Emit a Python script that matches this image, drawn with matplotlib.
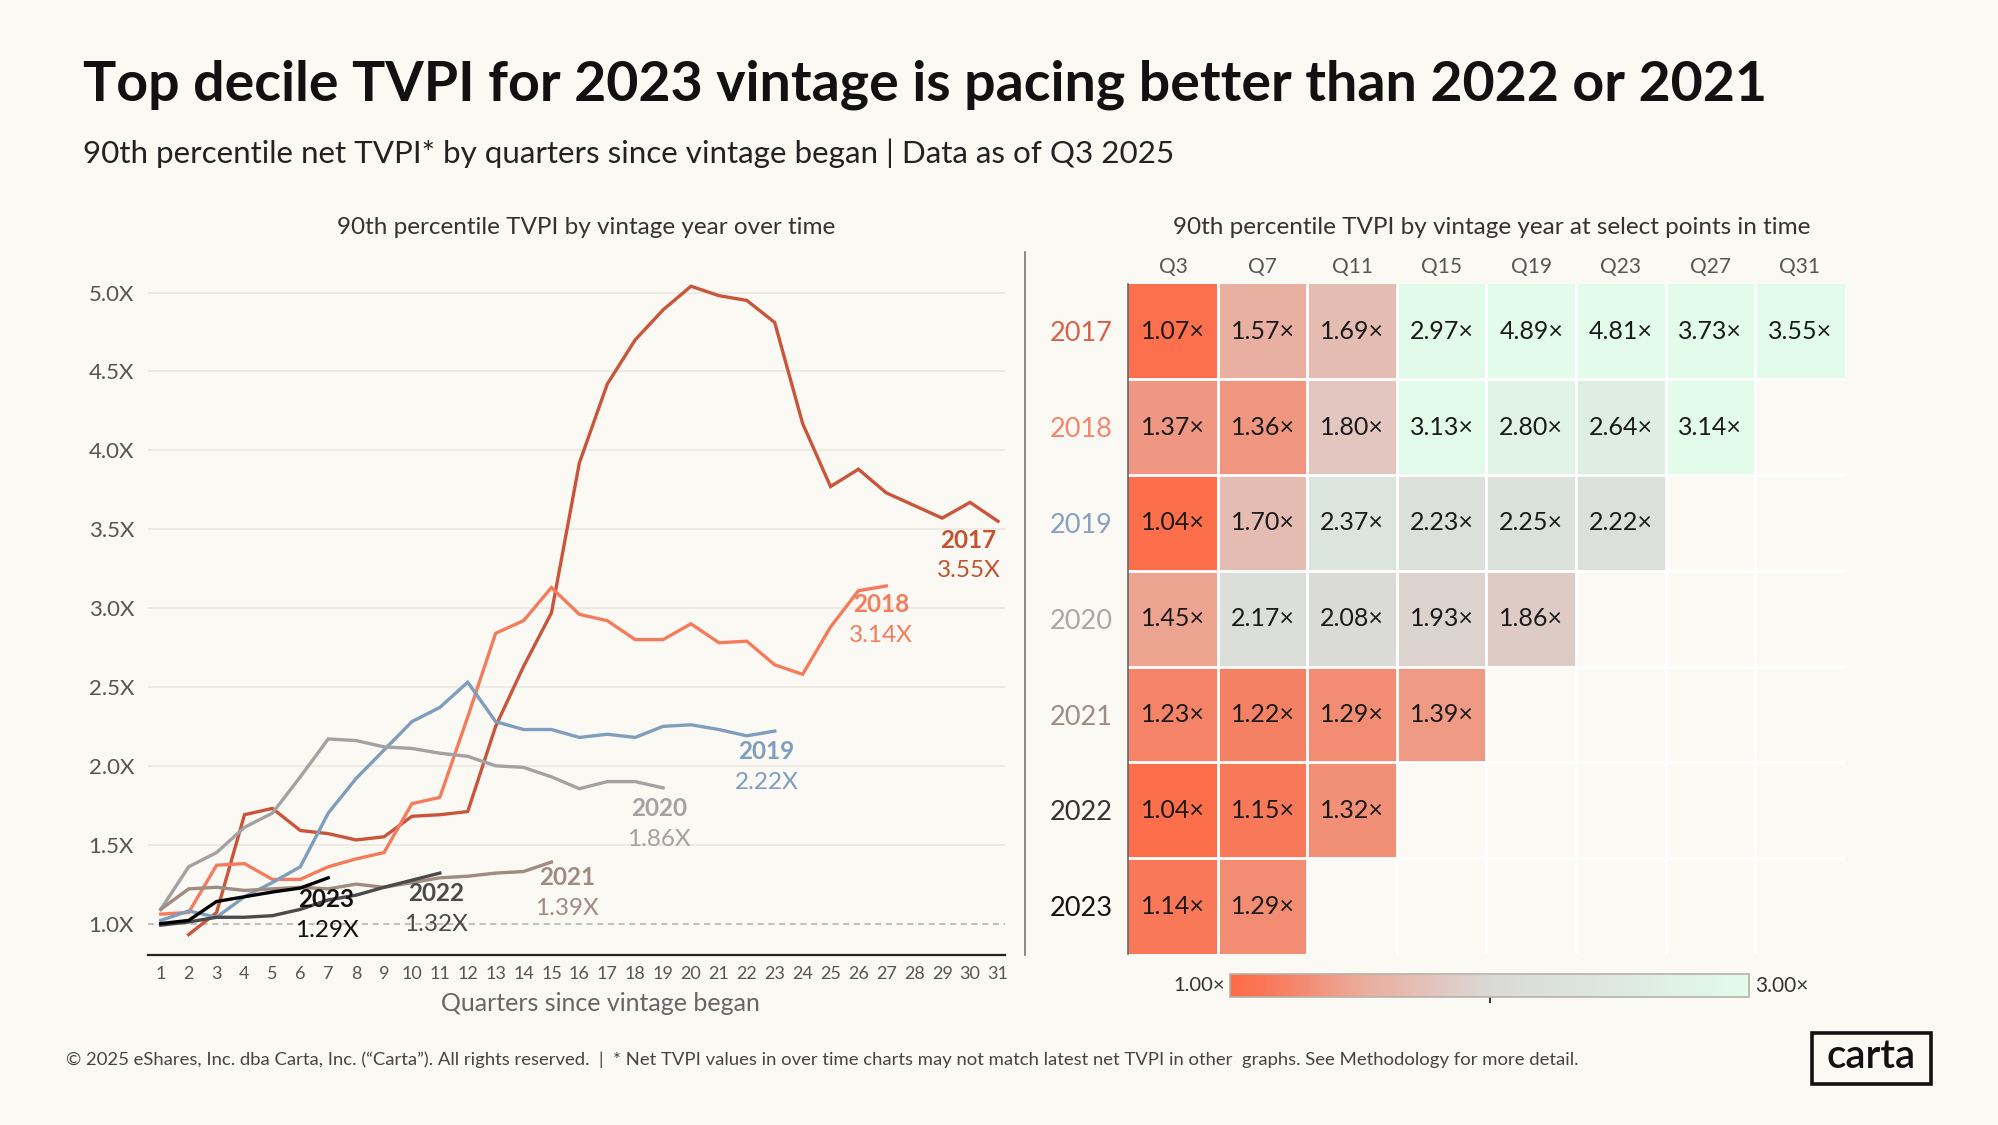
import matplotlib
matplotlib.use("Agg")
import matplotlib.pyplot as plt
import numpy as np
from matplotlib.colors import LinearSegmentedColormap, Normalize
from matplotlib.lines import Line2D
from matplotlib.patches import Rectangle
import matplotlib.cm as cm

plt.rcParams['font.family'] = ['Lato', 'DejaVu Sans']

BG = '#FBF9F4'

# ---- data: 90th percentile TVPI by quarter since vintage began ----
quarters = list(range(1, 32))
vintages = ['2017', '2018', '2019', '2020', '2021', '2022', '2023']

tvpi_2017 = [None, 0.93, 1.07, 1.69, 1.73, 1.59, 1.57, 1.53, 1.55, 1.68, 1.69, 1.71,
             2.25, 2.63, 2.97, 3.92, 4.42, 4.70, 4.89, 5.04, 4.98, 4.95, 4.81, 4.17,
             3.77, 3.88, 3.73, 3.65, 3.57, 3.67, 3.55]
tvpi_2018 = [1.06, 1.07, 1.37, 1.38, 1.28, 1.28, 1.36, 1.41, 1.45, 1.76, 1.80, 2.31,
             2.84, 2.92, 3.13, 2.96, 2.92, 2.80, 2.80, 2.90, 2.78, 2.79, 2.64, 2.58,
             2.88, 3.11, 3.14]
tvpi_2019 = [1.02, 1.08, 1.04, 1.17, 1.26, 1.36, 1.70, 1.92, 2.10, 2.28, 2.37, 2.53,
             2.28, 2.23, 2.23, 2.18, 2.20, 2.18, 2.25, 2.26, 2.23, 2.19, 2.22]
tvpi_2020 = [1.09, 1.36, 1.45, 1.61, 1.70, 1.93, 2.17, 2.16, 2.12, 2.11, 2.08, 2.06,
             2.00, 1.99, 1.93, 1.855, 1.90, 1.90, 1.86]
tvpi_2021 = [1.09, 1.22, 1.23, 1.21, 1.22, 1.23, 1.22, 1.25, 1.23, 1.26, 1.29, 1.30,
             1.32, 1.33, 1.39]
tvpi_2022 = [0.99, 1.01, 1.04, 1.04, 1.05, 1.09, 1.15, 1.18, 1.23, 1.275, 1.32]
tvpi_2023 = [1.00, 1.02, 1.14, 1.17, 1.20, 1.225, 1.29]

series = [tvpi_2017, tvpi_2018, tvpi_2019, tvpi_2020, tvpi_2021, tvpi_2022, tvpi_2023]
latest_labels = ['3.55X', '3.14X', '2.22X', '1.86X', '1.39X', '1.32X', '1.29X']
# label anchor (quarter, value) for the end-of-line annotations
label_q = [29.95, 26.8, 22.7, 18.85, 15.57, 10.86, 6.94]
label_v = [3.43, 3.02, 2.09, 1.73, 1.29, 1.19, 1.15]

line_colors = ['#C9553B', '#F47C5C', '#7F9DBC', '#A2A2A2', '#A08B82', '#4A4A4A', '#000000']
label_colors = ['#C4522F', '#F47C5C', '#7F9DBC', '#A2A2A2', '#A08B82', '#4A4A4A', '#111111']
row_label_colors = ['#D8614A', '#F4856A', '#86A1C0', '#A8A8A8', '#9E8C84', '#333333', '#111111']

# heatmap: select quarters
hm_cols = ['Q3', 'Q7', 'Q11', 'Q15', 'Q19', 'Q23', 'Q27', 'Q31']
hm_2017 = [1.07, 1.57, 1.69, 2.97, 4.89, 4.81, 3.73, 3.55]
hm_2018 = [1.37, 1.36, 1.80, 3.13, 2.80, 2.64, 3.14, None]
hm_2019 = [1.04, 1.70, 2.37, 2.23, 2.25, 2.22, None, None]
hm_2020 = [1.45, 2.17, 2.08, 1.93, 1.86, None, None, None]
hm_2021 = [1.23, 1.22, 1.29, 1.39, None, None, None, None]
hm_2022 = [1.04, 1.15, 1.32, None, None, None, None, None]
hm_2023 = [1.14, 1.29, None, None, None, None, None, None]
hm_rows = [hm_2017, hm_2018, hm_2019, hm_2020, hm_2021, hm_2022, hm_2023]

yticks = [1.0, 1.5, 2.0, 2.5, 3.0, 3.5, 4.0, 4.5, 5.0]

fig = plt.figure(figsize=(19.99, 11.25), dpi=100, facecolor=BG)

# ---- titles ----
fig.text(0.0415, 0.925, 'Top decile TVPI for 2023 vintage is pacing better than 2022 or 2021',
         fontsize=40, fontweight='bold', color='#111111', va='center', ha='left')
fig.text(0.0415, 0.864, '90th percentile net TVPI* by quarters since vintage began | Data as of Q3 2025',
         fontsize=22.6, color='#222222', va='center', ha='left')

# ---- left: lines over time ----
ax1 = fig.add_axes([0.074, 0.151, 0.429, 0.603])
ax1.set_facecolor(BG)
for v in yticks[1:]:
    ax1.axhline(v, color='#ECE9E3', lw=1.3, zorder=0)
ax1.axhline(1.0, color='#AFAFAF', lw=1.1, ls=(0, (4, 3)), zorder=0)

for vals, col in zip(series, line_colors):
    q = [qq for qq, vv in zip(quarters, vals) if vv is not None]
    v = [vv for vv in vals if vv is not None]
    ax1.plot(q, v, color=col, lw=2.4, solid_joinstyle='miter', zorder=2)

for yr, lab, q, v, col in zip(vintages, latest_labels, label_q, label_v, label_colors):
    ax1.text(q, v, yr, color=col, fontsize=17.5, fontweight='bold', ha='center', va='center', zorder=3)
    ax1.text(q, v - 0.195, lab, color=col, fontsize=17.5, ha='center', va='center', zorder=3)

ax1.set_xlim(0.54, 31.27)
ax1.set_ylim(0.8, 5.1)
ax1.set_xticks(quarters)
ax1.set_xticklabels([str(q) for q in quarters])
ax1.set_yticks(yticks)
ax1.set_yticklabels([f'{v:.1f}X' for v in yticks])
ax1.tick_params(axis='both', length=0, colors='#555555')
ax1.tick_params(axis='x', labelsize=13, pad=8)
ax1.tick_params(axis='y', labelsize=16, pad=10)
for s in ['top', 'right', 'left']:
    ax1.spines[s].set_visible(False)
ax1.spines['bottom'].set_color('#222222')
ax1.spines['bottom'].set_linewidth(1.6)

fig.text(0.3004, 0.1078, 'Quarters since vintage began', fontsize=18, color='#666666',
         ha='center', va='center')
fig.text(0.2934, 0.798, '90th percentile TVPI by vintage year over time',
         fontsize=17.5, color='#333333', ha='center', va='center')

# separator
fig.add_artist(Line2D([0.5128, 0.5128], [0.151, 0.776], color='#777777', lw=1.2))

# ---- right: heatmap ----
cmap = LinearSegmentedColormap.from_list('tvpi', [
    (0.0, '#FF6A46'),
    (0.10, '#F67F62'),
    (0.25, '#EBAB9B'),
    (0.40, '#E2C6BF'),
    (0.50, '#DAD9D6'),
    (0.75, '#DDE9E1'),
    (1.0, '#E3FBEA'),
])
norm = Normalize(vmin=1.0, vmax=3.0)

grid = np.array([[np.nan if v is None else v for v in row] for row in hm_rows])
ax2 = fig.add_axes([0.5644, 0.152, 0.3584, 0.596])
ax2.set_facecolor(BG)
ax2.imshow(np.ma.masked_invalid(grid), cmap=cmap, norm=norm, aspect='auto',
           extent=(-0.5, len(hm_cols) - 0.5, len(vintages) - 0.5, -0.5), interpolation='nearest')
for i, row in enumerate(hm_rows):
    for j, v in enumerate(row):
        if v is not None:
            ax2.text(j, i, f'{v:.2f}×', ha='center', va='center', fontsize=18, color='#1A1A1A')
for k in range(1, len(hm_cols)):
    ax2.axvline(k - 0.5, color='white', lw=2)
for k in range(1, len(vintages)):
    ax2.axhline(k - 0.5, color='white', lw=2)
ax2.set_xlim(-0.5, len(hm_cols) - 0.5)
ax2.set_ylim(len(vintages) - 0.5, -0.5)
ax2.set_xticks(range(len(hm_cols)))
ax2.set_xticklabels(hm_cols)
ax2.xaxis.tick_top()
ax2.set_yticks(range(len(vintages)))
ax2.set_yticklabels(vintages)
ax2.tick_params(axis='x', length=0, labelsize=15, colors='#555555', pad=5)
ax2.tick_params(axis='y', length=0, labelsize=19.5, pad=11)
for lab, col in zip(ax2.get_yticklabels(), row_label_colors):
    lab.set_color(col)
for s in ['top', 'right', 'bottom']:
    ax2.spines[s].set_visible(False)
ax2.spines['left'].set_color('#666666')
ax2.spines['left'].set_linewidth(1.2)

fig.text(0.746, 0.798, '90th percentile TVPI by vintage year at select points in time',
         fontsize=17.5, color='#333333', ha='center', va='center')

# colorbar
cax = fig.add_axes([0.6154, 0.1135, 0.2596, 0.0204])
cb = fig.colorbar(cm.ScalarMappable(norm=norm, cmap=cmap), cax=cax, orientation='horizontal')
cb.set_ticks([2.0])
cb.set_ticklabels([''])
cb.ax.tick_params(length=4, width=1.4, color='#333333')
cb.outline.set_edgecolor('#B5B2AA')
cb.outline.set_linewidth(1.2)
fig.text(0.6125, 0.1237, '1.00×', fontsize=14.5, color='#333333', ha='right', va='center')
fig.text(0.878, 0.1237, '3.00×', fontsize=15, color='#333333', ha='left', va='center')

# ---- footer ----
fig.text(0.033, 0.058,
         '© 2025 eShares, Inc. dba Carta, Inc. (“Carta”). All rights reserved.  |  '
         '* Net TVPI values in over time charts may not match latest net TVPI in other  graphs. '
         'See Methodology for more detail.',
         fontsize=13.3, color='#444444', ha='left', va='center')

fig.add_artist(Rectangle((0.9063, 0.0363), 0.0599, 0.0454, transform=fig.transFigure,
                         facecolor=BG, edgecolor='#111111', lw=2.6))
fig.text(0.9362, 0.0605, 'carta', fontsize=29, fontweight=600, color='#111111',
         ha='center', va='center')

fig.savefig('out.png', dpi=100, facecolor=BG)
